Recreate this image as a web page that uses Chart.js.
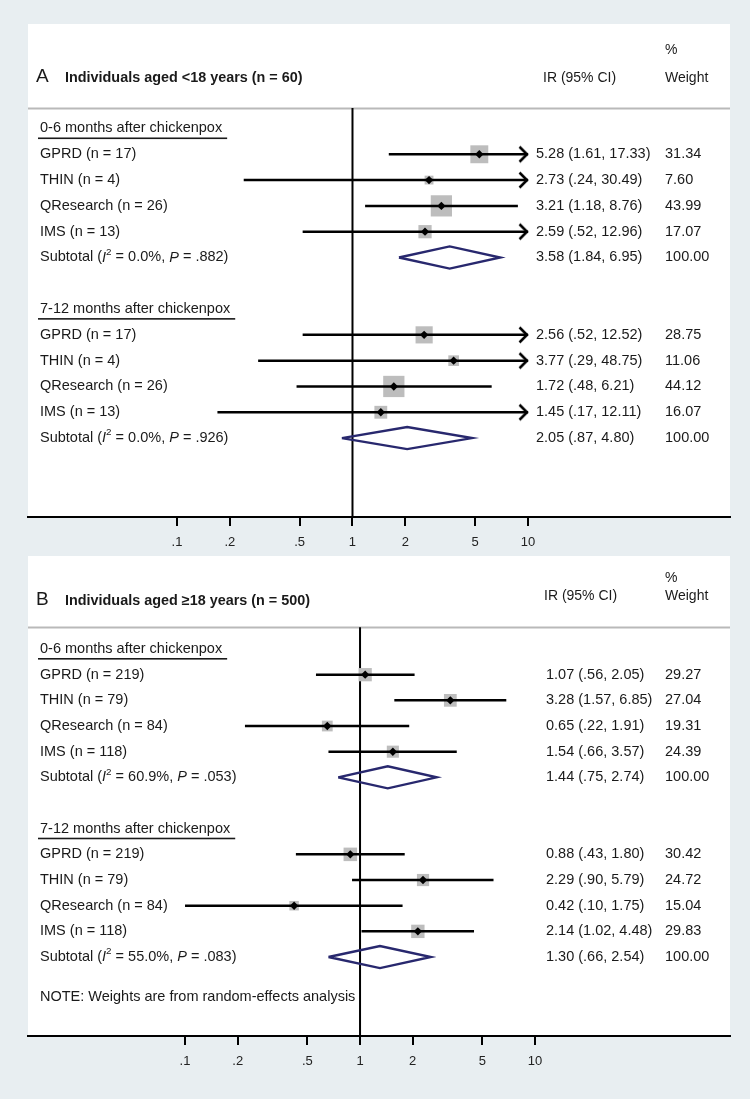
<!DOCTYPE html>
<html><head><meta charset="utf-8">
<script src="https://cdn.jsdelivr.net/npm/chart.js@4"></script>
<style>
html,body{margin:0;padding:0;background:#e8eef1;width:750px;height:1099px;overflow:hidden}
canvas{position:absolute;left:0}
#ca{top:0}
#cb{top:540px}
</style></head><body>
<canvas id="ca" width="750" height="560"></canvas>
<canvas id="cb" width="750" height="560"></canvas>
<script>
// ---------- DATA ----------
const groupLabels = ['0-6 months after chickenpox', '7-12 months after chickenpox'];
const tickValues = [0.1, 0.2, 0.5, 1, 2, 5, 10];
const tickLabels = ['.1', '.2', '.5', '1', '2', '5', '10'];

// Panel A: individuals aged <18 years
const studiesA = ['GPRD (n = 17)', 'THIN (n = 4)', 'QResearch (n = 26)', 'IMS (n = 13)'];
const irA = [5.28, 2.73, 3.21, 2.59, 2.56, 3.77, 1.72, 1.45];
const loA = [1.61, 0.24, 1.18, 0.52, 0.52, 0.29, 0.48, 0.17];
const hiA = [17.33, 30.49, 8.76, 12.96, 12.52, 48.75, 6.21, 12.11];
const weightA = [31.34, 7.60, 43.99, 17.07, 28.75, 11.06, 44.12, 16.07];
const subIrA = [3.58, 2.05];
const subLoA = [1.84, 0.87];
const subHiA = [6.95, 4.80];
const i2A = [0.0, 0.0];
const pA = [0.882, 0.926];

// Panel B: individuals aged >=18 years
const studiesB = ['GPRD (n = 219)', 'THIN (n = 79)', 'QResearch (n = 84)', 'IMS (n = 118)'];
const irB = [1.07, 3.28, 0.65, 1.54, 0.88, 2.29, 0.42, 2.14];
const loB = [0.56, 1.57, 0.22, 0.66, 0.43, 0.90, 0.10, 1.02];
const hiB = [2.05, 6.85, 1.91, 3.57, 1.80, 5.79, 1.75, 4.48];
const weightB = [29.27, 27.04, 19.31, 24.39, 30.42, 24.72, 15.04, 29.83];
const subIrB = [1.44, 1.30];
const subLoB = [0.75, 0.66];
const subHiB = [2.74, 2.54];
const i2B = [60.9, 55.0];
const pB = [0.053, 0.083];

// ---------- HELPERS ----------
const FONT = '"Liberation Sans", Arial, Helvetica, sans-serif';
const TXT = '#1a1a1a';
function fmtEst(v) { return v.toFixed(2); }
function fmtCI(v) { const s = v.toFixed(2); return v < 1 ? s.replace(/^0/, '') : s; }
function fmtP(v) { return v.toFixed(3).replace(/^0/, ''); }

function makeArrow() {
  const c = document.createElement('canvas');
  c.width = 30; c.height = 22;
  const g = c.getContext('2d');
  g.strokeStyle = '#000'; g.lineWidth = 2.6; g.lineCap = 'butt'; g.lineJoin = 'miter';
  g.beginPath();
  g.moveTo(15 - 8.5, 11 - 7.5); g.lineTo(14, 11); g.lineTo(15 - 8.5, 11 + 7.5);
  g.stroke();
  return c;
}
const arrowImg = makeArrow();

function drawRich(ctx, x, y, segs, size) {
  let cx = x;
  for (const s of segs) {
    const fs = s.sup ? size * 0.68 : size;
    ctx.font = (s.italic ? 'italic ' : '') + fs + 'px ' + FONT;
    ctx.fillText(s.t, cx, s.sup ? y - size * 0.38 : y);
    cx += ctx.measureText(s.t).width;
  }
}

function buildPanel(id, P) {
  const studyRows = [], subRows = [], headRows = [];
  for (let g = 0; g < 2; g++) {
    headRows.push(g * 7);
    for (let i = 0; i < 4; i++) studyRows.push(g * 7 + 1 + i);
    subRows.push(g * 7 + 5);
  }
  const xClip = tickValues[tickValues.length - 1];
  const ds = [];
  // point estimate markers
  ds.push({ order: 0, data: P.ir.map((v, k) => ({ x: v, y: studyRows[k] })),
    pointStyle: 'rectRot', pointRadius: 4.2, backgroundColor: '#000', borderWidth: 0 });
  // CI lines
  P.ir.forEach((v, k) => {
    ds.push({ order: 1, showLine: true, data: [{ x: P.lo[k], y: studyRows[k] }, { x: Math.min(P.hi[k], xClip), y: studyRows[k] }],
      borderColor: '#000', borderWidth: 2.5, pointRadius: 0 });
  });
  // arrows for CIs beyond the plotted range
  ds.push({ order: 1, data: P.hi.map((v, k) => v > xClip ? { x: xClip, y: studyRows[k] } : null).filter(Boolean),
    pointStyle: arrowImg, pointRadius: 5 });
  // weight squares
  ds.push({ order: 2, data: P.w.map((v, k) => ({ x: P.ir[k], y: studyRows[k] })),
    pointStyle: 'rect', pointRadius: P.w.map(v => P.sq * Math.sqrt(v) / Math.SQRT2),
    backgroundColor: '#bdbdbd', borderWidth: 0 });
  // subtotal diamonds
  P.subIr.forEach((v, g) => {
    const r = subRows[g], h = 0.43;
    ds.push({ order: 1, showLine: true, data: [
      { x: P.subLo[g], y: r }, { x: v, y: r - h }, { x: P.subHi[g], y: r }, { x: v, y: r + h }, { x: P.subLo[g], y: r }],
      borderColor: '#28286e', borderWidth: 2.4, pointRadius: 0, borderJoinStyle: 'miter' });
  });
  // reference line at IR = 1
  ds.push({ order: 3, showLine: true, data: [{ x: 1, y: P.lay.sepRow }, { x: 1, y: P.lay.yMax }],
    borderColor: '#000', borderWidth: 2, pointRadius: 0 });

  const textPlugin = {
    id: 'forestText',
    beforeDraw(chart) {
      const { ctx, chartArea: a } = chart;
      ctx.save();
      ctx.fillStyle = '#ffffff';
      ctx.fillRect(a.left, a.top, a.right - a.left, a.bottom - a.top);
      ctx.restore();
    },
    beforeDatasetsDraw(chart) {
      const { ctx, chartArea: a, scales: { y } } = chart;
      const yy = Math.round(y.getPixelForValue(P.lay.sepRow)) + 0.5;
      ctx.save();
      ctx.strokeStyle = '#b9b9b9'; ctx.lineWidth = 2;
      ctx.beginPath(); ctx.moveTo(a.left, yy); ctx.lineTo(a.right, yy); ctx.stroke();
      ctx.restore();
    },
    afterDraw(chart) {
      const { ctx, scales: { y } } = chart;
      const L = P.lay;
      ctx.save();
      ctx.fillStyle = TXT;
      ctx.textBaseline = 'middle';
      ctx.textAlign = 'left';
      // headers
      ctx.font = '19px ' + FONT;
      ctx.fillText(P.letter, 36, y.getPixelForValue(L.titleRow) - 1);
      ctx.font = 'bold 14.4px ' + FONT;
      ctx.fillText(P.title, 65, y.getPixelForValue(L.titleRow));
      ctx.font = '14px ' + FONT;
      ctx.fillText('IR (95% CI)', L.irHeadX, y.getPixelForValue(L.colHeadRow));
      ctx.fillText('%', L.wX, y.getPixelForValue(L.pctRow));
      ctx.fillText('Weight', L.wX, y.getPixelForValue(L.colHeadRow));
      // groups
      for (let g = 0; g < 2; g++) {
        const hy = y.getPixelForValue(headRows[g]);
        ctx.font = '14.5px ' + FONT;
        ctx.fillText(groupLabels[g], 40, hy);
        const w = ctx.measureText(groupLabels[g]).width;
        ctx.fillRect(38, hy + 9, w + 7, 1.6);
        for (let i = 0; i < 4; i++) {
          const k = g * 4 + i;
          const ry = y.getPixelForValue(studyRows[k]);
          ctx.font = '14.5px ' + FONT;
          ctx.fillText(P.studies[i], 40, ry);
          ctx.fillText(fmtEst(P.ir[k]) + ' (' + fmtCI(P.lo[k]) + ', ' + fmtCI(P.hi[k]) + ')', L.irX, ry);
          ctx.fillText(P.w[k].toFixed(2), L.wX, ry);
        }
        const sy = y.getPixelForValue(subRows[g]);
        drawRich(ctx, 40, sy, [
          { t: 'Subtotal (' }, { t: 'I', italic: true }, { t: '2', sup: true },
          { t: ' = ' + P.i2[g].toFixed(1) + '%, ' }, { t: 'P', italic: true }, { t: ' = ' + fmtP(P.p[g]) + ')' }
        ], 14.5);
        ctx.font = '14.5px ' + FONT;
        ctx.fillText(fmtEst(P.subIr[g]) + ' (' + fmtCI(P.subLo[g]) + ', ' + fmtCI(P.subHi[g]) + ')', L.irX, sy);
        ctx.fillText((100).toFixed(2), L.wX, sy);
      }
      if (P.note) {
        ctx.font = '14.5px ' + FONT;
        ctx.fillText(P.note, 40, y.getPixelForValue(L.noteRow));
      }
      ctx.restore();
    }
  };

  return new Chart(document.getElementById(id), {
    type: 'scatter',
    data: { datasets: ds },
    plugins: [textPlugin],
    options: {
      responsive: false, animation: false, devicePixelRatio: 1,
      layout: { padding: P.lay.pad },
      plugins: { legend: { display: false }, tooltip: { enabled: false } },
      events: [],
      scales: {
        x: {
          type: 'logarithmic', min: P.lay.xMin, max: P.lay.xMax, bounds: 'data',
          afterBuildTicks: s => { s.ticks = tickValues.map(v => ({ value: v })); },
          ticks: { autoSkip: false, maxRotation: 0, padding: 9, color: '#222',
            font: { family: FONT, size: 13 },
            callback: (v) => { const i = tickValues.indexOf(v); return i >= 0 ? tickLabels[i] : ''; } },
          grid: { drawOnChartArea: false, drawTicks: true, tickLength: 9, color: '#000', lineWidth: 2 },
          border: { display: true, color: '#000', width: 2 }
        },
        y: { type: 'linear', reverse: true, min: P.lay.yMin, max: P.lay.yMax, bounds: 'data', display: false }
      }
    }
  });
}

buildPanel('ca', {
  letter: 'A', title: 'Individuals aged <18 years (n = 60)',
  studies: studiesA, ir: irA, lo: loA, hi: hiA, w: weightA,
  subIr: subIrA, subLo: subLoA, subHi: subHiA, i2: i2A, p: pA, sq: 3.2,
  lay: { pad: { left: 28, right: 20, top: 24, bottom: 0.4 }, xMin: 0.01416, xMax: 141.6,
    yMin: -4.05, yMax: 15.06, sepRow: -0.795, titleRow: -1.96, colHeadRow: -1.96, pctRow: -3.04,
    irX: 536, irHeadX: 543, wX: 665 }
});
buildPanel('cb', {
  letter: 'B', title: 'Individuals aged \u226518 years (n = 500)',
  studies: studiesB, ir: irB, lo: loB, hi: hiB, w: weightB,
  subIr: subIrB, subLo: subLoB, subHi: subHiB, i2: i2B, p: pB, sq: 2.45,
  note: 'NOTE: Weights are from random-effects analysis',
  lay: { pad: { left: 28, right: 20, top: 16, bottom: 21.4 }, xMin: 0.01267, xMax: 130.0,
    yMin: -3.623, yMax: 15.076, sepRow: -0.845, titleRow: -1.87, colHeadRow: -2.06, pctRow: -2.77, noteRow: 13.55,
    irX: 546, irHeadX: 544, wX: 665 }
});
</script>
</body></html>
